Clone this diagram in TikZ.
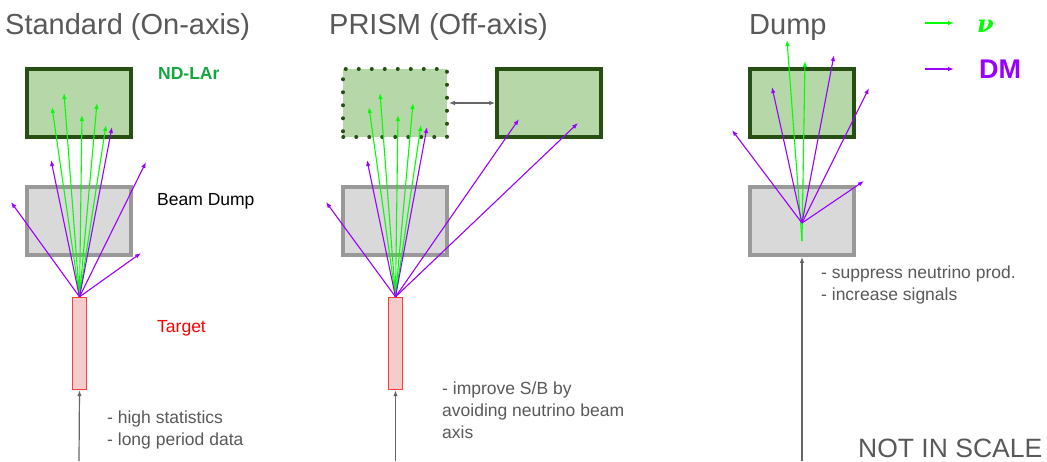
\documentclass[tikz,border=0pt]{standalone}
\usepackage{fontspec}
\setmainfont{Liberation Sans}
\newfontfamily\nufont{DejaVu Serif}
\usetikzlibrary{arrows.meta}
\definecolor{detfill}{HTML}{B6D7A8}
\definecolor{detline}{HTML}{274E13}
\definecolor{dumpfill}{HTML}{D9D9D9}
\definecolor{dumpline}{HTML}{999999}
\definecolor{tgtfill}{HTML}{F4CCCC}
\definecolor{tgtline}{HTML}{FF3B3B}
\definecolor{txtgray}{HTML}{595959}
\definecolor{nugreen}{HTML}{00FF00}
\definecolor{dmpurple}{HTML}{9900FF}
\definecolor{ndgreen}{HTML}{11A83E}
\definecolor{beamgray}{HTML}{666666}
\tikzset{
  detbox/.style={draw=detline, fill=detfill, line width=3.5pt, minimum width=104pt, minimum height=68pt, inner sep=0pt},
  detdot/.style={draw=detline, fill=detfill, line width=3.5pt, line cap=round, dash pattern=on 0.5pt off 12.5pt, minimum width=104pt, minimum height=68pt, inner sep=0pt},
  dumpbox/.style={draw=dumpline, fill=dumpfill, line width=3.5pt, minimum width=104pt, minimum height=68pt, inner sep=0pt},
  tgt/.style={draw=tgtline, fill=tgtfill, line width=1.3pt, minimum width=14pt, minimum height=92pt, inner sep=0pt},
  nu/.style={draw=nugreen, line width=1.1pt, -{Latex[length=6pt,width=4.5pt]}},
  dm/.style={draw=dmpurple, line width=1.1pt, -{Latex[length=6pt,width=4.5pt]}},
  beam/.style={draw=beamgray, line width=1.2pt, -{Latex[length=6pt,width=4.5pt]}},
  title/.style={text=txtgray, font=\fontsize{29}{32}\selectfont, anchor=base west, inner sep=0pt},
  body/.style={text=txtgray, font=\fontsize{17.5}{21}\selectfont, anchor=base west, inner sep=0pt},
  lab/.style={font=\fontsize{17.5}{21}\selectfont, anchor=base west, inner sep=0pt},
}
\begin{document}
\begin{tikzpicture}[x=1pt,y=-1pt]
\useasboundingbox (0,0) rectangle (1047,461);
% titles
\node[title] (tt1) at (5,34) {Standard (On-axis)};
\node[title] (tt2) at (329,34) {PRISM (Off-axis)};
\node[title] (tt3) at (749,34) {Dump};
% ===== panel 1 =====
\node[detbox] (nd1) at (79,103) {};
\node[dumpbox] (bd1) at (79,221) {};
\node[tgt] (t1) at (79.5,343.5) {};
\coordinate (b1) at (79,461);
\draw[beam] (b1) -- (t1.south);
\foreach \i/\x/\y in {1/52/107,2/64/93,3/82/115,4/97/103,5/106/125}{
  \coordinate (g1-\i) at (\x,\y);
  \draw[nu] (t1.north) -- (g1-\i);
}
\foreach \i/\x/\y in {1/112/127,2/51/160,3/11/202,4/146/162,5/141/253}{
  \coordinate (p1-\i) at (\x,\y);
  \draw[dm] (t1.north) -- (p1-\i);
}
\node[lab, text=ndgreen, font=\fontsize{17.5}{21}\selectfont\bfseries] (ndl) at (158,79) {ND-LAr};
\node[lab] (bdl) at (157,205) {Beam Dump};
\node[lab, text=red] (tgl) at (157,332) {Target};
\node[body] (s1a) at (107,423) {- high statistics};
\node[body] (s1b) at (107,445) {- long period data};
% ===== panel 2 =====
\node[detdot] (nd2d) at (395,103) {};
\node[detbox] (nd2) at (549,103) {};
\node[dumpbox] (bd2) at (395,221) {};
\node[tgt] (t2) at (395.5,343.5) {};
\draw[draw=beamgray, line width=1.1pt, {Latex[length=6pt,width=4.5pt]}-{Latex[length=6pt,width=4.5pt]}] (nd2d.east) -- (nd2.west);
\coordinate (b2) at (395.5,461);
\draw[beam] (b2) -- (t2.south);
\foreach \i/\x/\y in {1/369/107,2/380/93,3/398/115,4/413/103,5/421/125}{
  \coordinate (g2-\i) at (\x,\y);
  \draw[nu] (t2.north) -- (g2-\i);
}
\foreach \i/\x/\y in {1/427/127,2/367/160,3/326/202,4/519/119,5/578/123}{
  \coordinate (p2-\i) at (\x,\y);
  \draw[dm] (t2.north) -- (p2-\i);
}
\node[body] (s2a) at (442,394) {- improve S/B by};
\node[body] (s2b) at (442,416) {avoiding neutrino beam};
\node[body] (s2c) at (442,438) {axis};
% ===== panel 3 =====
\node[detbox] (nd3) at (802,103) {};
\node[dumpbox] (bd3) at (802,221) {};
\coordinate (b3) at (802,461);
\draw[beam] (b3) -- (bd3.south);
\coordinate (o3) at (802,223);
\coordinate (gs3) at (802,241);
\foreach \i/\x/\y in {1/787/40,2/805/61}{
  \coordinate (g3-\i) at (\x,\y);
  \draw[nu] (gs3) -- (g3-\i);
}
\foreach \i/\x/\y in {1/732/130,2/772/87,3/834/55,4/869/88,5/864/181}{
  \coordinate (p3-\i) at (\x,\y);
  \draw[dm] (o3) -- (p3-\i);
}
\node[body] (s3a) at (821,278) {- suppress neutrino prod.};
\node[body] (s3b) at (821,300) {- increase signals};
\node[text=txtgray, font=\fontsize{26.5}{30}\selectfont, anchor=base west, inner sep=0pt] (nis) at (858,457) {NOT IN SCALE};
% ===== legend =====
\coordinate (lg1) at (925,23);
\coordinate (lg2) at (954,23);
\draw[nu] (lg1) -- (lg2);
\coordinate (lp1) at (925,69);
\coordinate (lp2) at (954,69);
\draw[dm] (lp1) -- (lp2);
\node[inner sep=0pt, anchor=base west, text=nugreen, font=\nufont\fontsize{24}{28}\selectfont\bfseries\itshape] (lnu) at (977,32) {ν};
\node[inner sep=0pt, anchor=base west, text=dmpurple, font=\fontsize{27}{30}\selectfont\bfseries] (ldm) at (979,78) {DM};
\end{tikzpicture}
\end{document}
